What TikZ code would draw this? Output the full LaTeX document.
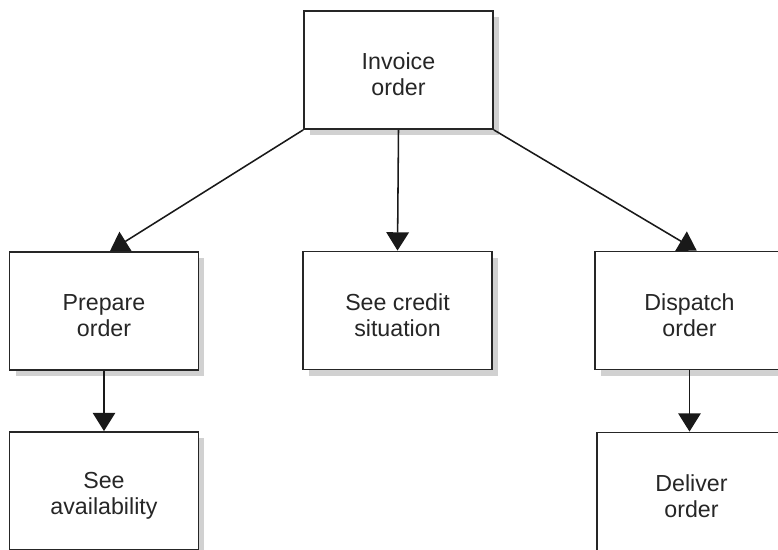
\documentclass[tikz,border=0pt]{standalone}
\usepackage{fontspec}
\setmainfont{Liberation Sans}
\usetikzlibrary{arrows.meta,shadows}

\newcommand{\tasklift}{\rule{0pt}{18pt}}

\tikzset{
  task/.style={draw=black!85, line width=1.3pt, fill=white, align=center,
    minimum width=4.72cm, minimum height=2.95cm, inner sep=0pt,
    font=\fontsize{16.5}{18.5}\selectfont, text=black!85,
    drop shadow={shadow xshift=0.15cm, shadow yshift=-0.16cm, fill=black!18, opacity=1}},
  link/.style={draw=black!90, line width=1.1pt, -{Triangle[width=16pt,length=13pt]}}
}

\begin{document}
\begin{tikzpicture}[x=0.025cm, y=-0.025cm]
          % Frame of the picture
          \useasboundingbox (0,0) rectangle (778,550);
          \clip (0,0) rectangle (778,550);

          % Top task
          \node[task] (invoice) at (398.5,70) {\tasklift Invoice\\order};

          % Second level
          \node[task] (prepare) at (104,311) {\tasklift Prepare\\order};
          \node[task] (credit) at (397.5,310.5) {\tasklift See credit\\situation};
          \node[task] (dispatch) at (689.5,310.5) {\tasklift Dispatch\\order};

          % Third level
          \node[task] (avail) at (104,491) {\tasklift See\\availability};
          \node[task] (deliver) at (691.5,491.5) {\tasklift Deliver\\order};

          % Links from the top task
          \draw[link] (invoice.south west) -- ([xshift=0.15cm]prepare.north);
          \draw[link] (invoice.south) -- (credit.north);
          \draw[link] (invoice.south east) -- ([xshift=0.18cm]dispatch.north);

          % Links to the third level
          \draw[link] (prepare.south) -- (avail.north);
          \draw[link] (dispatch.south) -- (dispatch.south |- deliver.north);

        \end{tikzpicture}
\end{document}
